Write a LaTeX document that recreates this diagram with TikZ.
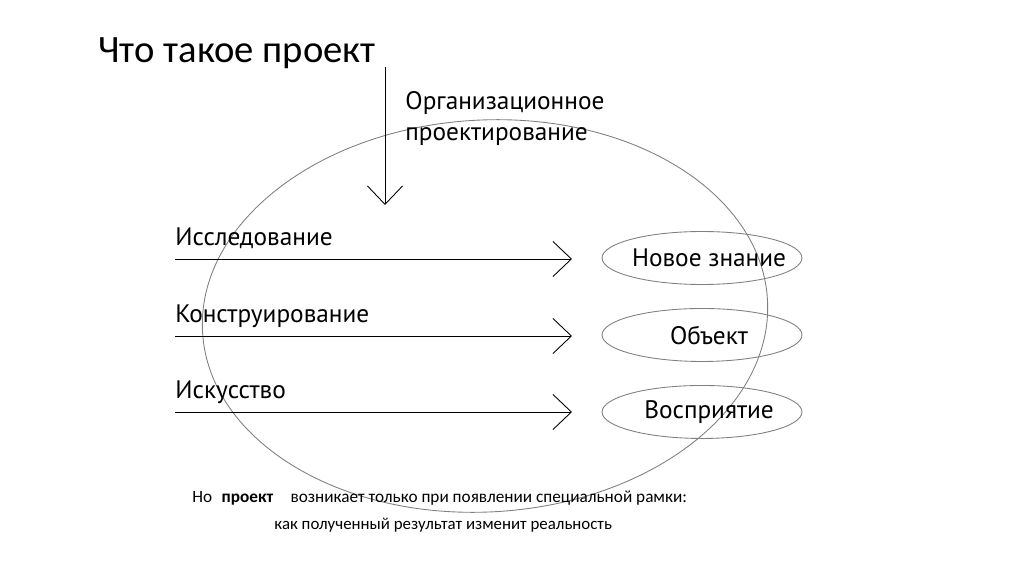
\documentclass[tikz,border=0pt]{standalone}
\usepackage{fontspec}
\setmainfont{PT Sans}
\newfontfamily\slidefont{Carlito}
\usetikzlibrary{shapes.geometric,arrows.meta}
\tikzstyle{result} = [ellipse, draw=gray, minimum width=4cm, minimum height=1.06cm, inner sep=0pt, font=\fontsize{14.4}{17}\selectfont]
\tikzstyle{lbl} = [anchor=base west, inner sep=0pt, font=\fontsize{14.4}{17}\selectfont]
\tikzstyle{invis} = [draw=none]

\begin{document}
\begin{tikzpicture}[x=0.02cm,y=-0.02cm,->,>={Straight Barb[length=10.5pt,width=20pt]},line width=0.5pt,node distance=1.54cm]
  \useasboundingbox (0,0) rectangle (1024,574);
  \draw[-,gray,line width=0.5pt,rotate around={3.3:(485,316)}] (485,316) ellipse [x radius=5.66cm, y radius=3.92cm];

  \node[anchor=base west, inner sep=0pt, font=\slidefont\fontsize{22}{26}\selectfont] (T) at (98,63) {Что такое проект};

  \coordinate (O_s) at (385,67);
  \coordinate (O_e) at (385,205);
  \node[lbl, align=left] (O) at (405,141) {Организационное\\[1pt]проектирование};

  \node[result] (N) at (702,258) {\makebox[0pt]{\hspace*{8pt}Новое знание}};
  \node[result] (B) [below of=N] {\makebox[0pt]{\hspace*{8pt}Объект}};
  \node[result] (V) [below of=B] {\makebox[0pt]{\hspace*{8pt}Восприятие}};

  \coordinate (N_s) at (175,259);
  \coordinate (N_e) at (572,259);
  \coordinate (B_s) at (175,336);
  \coordinate (B_e) at (572,336);
  \coordinate (V_s) at (175,412);
  \coordinate (V_e) at (572,412);
  \node[lbl] (R) at (175,246) {Исследование};
  \node[lbl] (K) at (175,322) {Конструирование};
  \node[lbl] (I) at (175,398) {Искусство};

  \path (O_s) edge node {} (O_e);
  \path (N_s) edge node {} (N_e);
  \path (B_s) edge node {} (B_e);
  \path (V_s) edge node {} (V_e);

  \node[anchor=base west, inner sep=0pt, font=\slidefont\fontsize{9.8}{12}\selectfont] (F1) at (192,502) {Но\hspace{0.55em}\textbf{проект}\hspace{1em}возникает только при появлении специальной рамки:};
  \node[anchor=base west, inner sep=0pt, font=\slidefont\fontsize{9.6}{12}\selectfont] (F2) at (274,529) {как полученный результат изменит реальность};
\end{tikzpicture}
\end{document}
